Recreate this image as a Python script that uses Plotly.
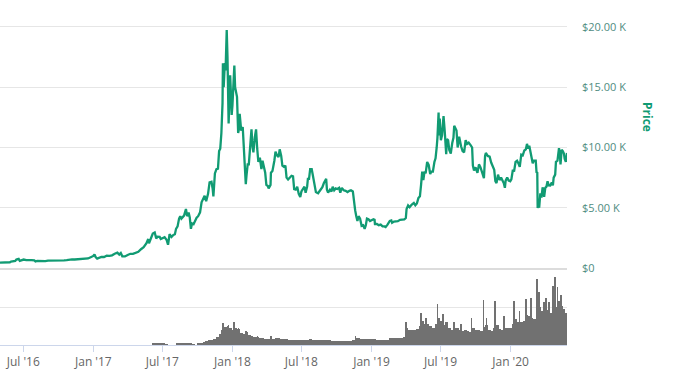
import plotly.graph_objects as go
import pandas as pd

# ---------------- price (USD) ----------------
price_dates = [
"2016-05-01","2016-05-08","2016-05-15","2016-05-22","2016-05-27","2016-05-30","2016-06-05","2016-06-10","2016-06-13","2016-06-16",
"2016-06-19","2016-06-22","2016-06-26","2016-07-02","2016-07-09","2016-07-16","2016-07-23","2016-07-30","2016-08-02","2016-08-07",
"2016-08-14","2016-08-21","2016-08-28","2016-09-04","2016-09-11","2016-09-18","2016-09-25","2016-10-02","2016-10-09","2016-10-16",
"2016-10-23","2016-10-30","2016-11-06","2016-11-13","2016-11-20","2016-11-27","2016-12-04","2016-12-11","2016-12-18","2016-12-25",
"2017-01-01","2017-01-04","2017-01-07","2017-01-11","2017-01-15","2017-01-22","2017-01-29","2017-02-05","2017-02-12","2017-02-19",
"2017-02-26","2017-03-05","2017-03-10","2017-03-14","2017-03-18","2017-03-25","2017-04-01","2017-04-08","2017-04-15","2017-04-22",
"2017-04-29","2017-05-06","2017-05-13","2017-05-20","2017-05-25","2017-05-27","2017-06-01","2017-06-06","2017-06-11","2017-06-15",
"2017-06-18","2017-06-24","2017-06-27","2017-07-02","2017-07-07","2017-07-12","2017-07-16","2017-07-20","2017-07-25","2017-07-30",
"2017-08-03","2017-08-06","2017-08-10","2017-08-14","2017-08-17","2017-08-20","2017-08-24","2017-08-27","2017-09-01","2017-09-04",
"2017-09-08","2017-09-11","2017-09-14","2017-09-17","2017-09-21","2017-09-25","2017-09-29","2017-10-03","2017-10-08","2017-10-12",
"2017-10-16","2017-10-20","2017-10-24","2017-10-29","2017-11-02","2017-11-07","2017-11-10","2017-11-12","2017-11-16","2017-11-20",
"2017-11-24","2017-11-27","2017-11-30","2017-12-03","2017-12-06","2017-12-07","2017-12-09","2017-12-12","2017-12-14","2017-12-17",
"2017-12-19","2017-12-22","2017-12-24","2017-12-26","2017-12-28","2017-12-30","2018-01-01","2018-01-04","2018-01-06","2018-01-08",
"2018-01-10","2018-01-13","2018-01-16","2018-01-18","2018-01-20","2018-01-24","2018-01-28","2018-01-31","2018-02-02","2018-02-05",
"2018-02-07","2018-02-10","2018-02-13","2018-02-16","2018-02-20","2018-02-23","2018-02-25","2018-03-01","2018-03-04","2018-03-07",
"2018-03-10","2018-03-14","2018-03-18","2018-03-21","2018-03-25","2018-03-28","2018-03-31","2018-04-04","2018-04-06","2018-04-11",
"2018-04-12","2018-04-16","2018-04-21","2018-04-24","2018-04-28","2018-05-02","2018-05-05","2018-05-09","2018-05-12","2018-05-16",
"2018-05-20","2018-05-23","2018-05-27","2018-05-31","2018-06-05","2018-06-09","2018-06-12","2018-06-16","2018-06-20","2018-06-24",
"2018-06-28","2018-07-01","2018-07-05","2018-07-09","2018-07-12","2018-07-16","2018-07-18","2018-07-21","2018-07-24","2018-07-28",
"2018-07-31","2018-08-04","2018-08-08","2018-08-11","2018-08-14","2018-08-17","2018-08-21","2018-08-25","2018-08-29","2018-09-04",
"2018-09-06","2018-09-09","2018-09-14","2018-09-18","2018-09-21","2018-09-25","2018-09-29","2018-10-03","2018-10-08","2018-10-11",
"2018-10-15","2018-10-20","2018-10-25","2018-10-30","2018-11-04","2018-11-08","2018-11-13","2018-11-15","2018-11-19","2018-11-22",
"2018-11-25","2018-11-28","2018-12-02","2018-12-06","2018-12-10","2018-12-14","2018-12-17","2018-12-20","2018-12-24","2018-12-28",
"2019-01-01","2019-01-06","2019-01-09","2019-01-10","2019-01-15","2019-01-20","2019-01-25","2019-01-30","2019-02-04","2019-02-07",
"2019-02-12","2019-02-18","2019-02-22","2019-02-24","2019-03-01","2019-03-06","2019-03-11","2019-03-17","2019-03-23","2019-03-28",
"2019-04-01","2019-04-03","2019-04-07","2019-04-11","2019-04-16","2019-04-22","2019-04-26","2019-04-30","2019-05-04","2019-05-08",
"2019-05-11","2019-05-14","2019-05-17","2019-05-20","2019-05-23","2019-05-27","2019-05-31","2019-06-04","2019-06-07","2019-06-11",
"2019-06-15","2019-06-18","2019-06-21","2019-06-23","2019-06-26","2019-06-27","2019-06-29","2019-07-02","2019-07-05","2019-07-09",
"2019-07-12","2019-07-14","2019-07-16","2019-07-18","2019-07-21","2019-07-24","2019-07-28","2019-08-01","2019-08-04","2019-08-06",
"2019-08-09","2019-08-12","2019-08-15","2019-08-19","2019-08-24","2019-08-28","2019-09-01","2019-09-05","2019-09-09","2019-09-13",
"2019-09-18","2019-09-22","2019-09-24","2019-09-27","2019-10-01","2019-10-06","2019-10-10","2019-10-14","2019-10-18","2019-10-23",
"2019-10-26","2019-10-28","2019-11-02","2019-11-07","2019-11-11","2019-11-15","2019-11-19","2019-11-22","2019-11-25","2019-11-29",
"2019-12-03","2019-12-07","2019-12-11","2019-12-14","2019-12-17","2019-12-19","2019-12-23","2019-12-27","2019-12-31","2020-01-03",
"2020-01-07","2020-01-10","2020-01-14","2020-01-18","2020-01-22","2020-01-25","2020-01-29","2020-02-02","2020-02-06","2020-02-10",
"2020-02-13","2020-02-16","2020-02-19","2020-02-22","2020-02-25","2020-02-28","2020-03-02","2020-03-07","2020-03-09","2020-03-11",
"2020-03-12","2020-03-14","2020-03-16","2020-03-19","2020-03-22","2020-03-25","2020-03-29","2020-04-01","2020-04-04","2020-04-07",
"2020-04-10","2020-04-14","2020-04-18","2020-04-21","2020-04-23","2020-04-27","2020-04-29","2020-05-03","2020-05-07","2020-05-09",
"2020-05-11","2020-05-14","2020-05-17","2020-05-20","2020-05-22","2020-05-25","2020-05-28",
]
price_values = [
450,458,455,442,475,530,575,580,700,765,
760,600,640,700,650,665,655,625,545,590,
570,585,575,610,605,610,600,612,618,640,
655,700,710,705,730,735,765,775,790,895,
1000,1135,900,780,820,920,915,1020,1000,1050,
1180,1270,1110,1240,970,960,1080,1180,1180,1240,
1350,1560,1720,2040,2400,2050,2400,2860,2950,2440,
2600,2580,2400,2500,2550,2350,1930,2800,2580,2750,
2800,3250,3450,4100,4300,4100,4300,4350,4900,4300,
4600,4200,3250,3700,3630,3930,4170,4300,4620,5450,
5700,6000,5550,6150,7100,7150,6600,5950,7850,8200,
8250,9700,9900,11200,13700,17000,15000,17000,16400,19750,
17500,12000,14000,16000,14500,12700,13500,15500,16800,15000,
14500,14200,11200,11500,12800,11400,11700,10100,8850,6960,
7700,8600,8600,10100,11500,10000,9600,10900,11500,9900,
8800,9150,8200,8900,8450,7900,6900,6800,6600,6900,
7900,8050,8900,9650,9350,9200,9850,9300,8500,8400,
8500,7500,7350,7500,7650,7600,6550,6500,6750,6150,
5900,6350,6550,6750,6250,6750,7400,7400,8200,8200,
7700,7050,6300,6250,6200,6350,6500,6700,7050,7400,
6500,6250,6500,6350,6750,6450,6600,6550,6650,6250,
6650,6450,6400,6300,6400,6450,6350,5700,4800,4300,
3900,4300,4100,3500,3550,3250,3550,4100,4050,3900,
3950,4050,4000,3650,3650,3550,3600,3450,3450,3400,
3600,3900,3950,3750,3850,3850,3880,4000,4000,4030,
4150,4900,5200,5050,5250,5400,5200,5350,5800,5950,
6900,8000,7300,8000,7850,8800,8550,7800,8000,8000,
8800,9100,10000,10800,12900,11000,12400,10600,11000,12600,
11400,10300,9450,10700,10600,9800,9500,10400,10800,11800,
11500,11400,10000,10900,10100,9700,9600,10600,10300,10400,
10200,10000,8500,8100,8350,7900,8600,8350,7950,7450,
9300,9550,9300,9250,8750,8500,8150,7200,7050,7750,
7300,7500,7200,7050,6650,7250,7500,7250,7200,7350,
8150,8000,8800,8900,8650,8400,9400,9350,9750,9850,
10300,9900,10150,9700,9300,8700,8900,8900,7950,7900,
4970,5400,5000,6200,5850,6700,5900,6650,6750,7200,
6860,6850,7100,6850,7500,7750,8800,8900,9950,9550,
8600,9800,9700,9500,9050,8800,9550,
]

# ---------------- volume (relative units, weekly) ----------------
vol_2016_start = "2016-05-01"
vol_2016 = [0]*35
vol_2017_start = "2017-01-01"
vol_2017 = [0]*22 + [
0.8,1.2,1.0,1.2,1.0,0.5,0,0,0,1.5,
2.5,2.5,2.0,2.8,2.0,0.5,0,1.0,2.5,3.5,
4.5,5.5,6.5,8,10,14,20,24,25,22,20,
]
vol_2018_start = "2018-01-07"
vol_2018 = [
22,21,16,14,17,13,12,10,10,9,
9,8,7.5,7,8,8.5,9,8,7,7,
6.5,6,6.5,6,6,6,5.5,6.5,7,6.5,
6,6.5,5.5,5.5,6,6,5,5,5,4.5,
5,4.5,4.5,5,6,8.5,9,7,7,8,
8,7,
]
vol_2019_start = "2019-01-06"
vol_2019 = [
7,6.5,6,6,6,6.5,9,9,8.5,9,
9.5,10,22,20,19,20,21,25,32,28,
28,25,22,27,36,32,26,30,22,20,
22,22,19,18,19,18,17,22,20,19,
18,24,26,20,18,22,26,21,20,22,
22,22,
]
vol_2020_start = "2020-01-05"
vol_2020 = [
28,34,30,30,32,40,38,36,34,48,
50,45,42,46,42,40,50,58,52,48,
43,
]

# narrow daily spikes
spike_dates = ["2017-12-07","2017-12-22","2018-01-05","2018-01-17","2018-02-06","2018-03-08","2018-04-12","2018-11-20",
               "2019-04-02","2019-05-11","2019-05-24","2019-06-23","2019-07-08","2019-08-06","2019-08-24","2019-09-20",
               "2019-10-22","2019-10-30","2019-11-21","2019-12-15","2020-01-10","2020-01-24","2020-02-10","2020-02-23",
               "2020-03-10","2020-03-16","2020-03-29","2020-04-03","2020-04-11","2020-04-21","2020-04-27","2020-05-03",
               "2020-05-12"]
spike_values = [29,26,30,22,18,12,11,12,
                30,42,36,55,41,30,27,36,
                60,36,58,38,58,45,61,63,
                88,71,57,62,57,78,91,77,
                66]

# tick labels
price_ticks = [0, 5000, 10000, 15000, 20000]
price_ticktext = ["$0", "$5.00 K", "$10.00 K", "$15.00 K", "$20.00 K"]

x_range = ["2016-05-01", "2020-05-28"]

# ------------------------------------------------------------
DAY = 86400000
vol_x, vol_y = [], []
for start, vals in [(vol_2016_start, vol_2016), (vol_2017_start, vol_2017), (vol_2018_start, vol_2018),
                    (vol_2019_start, vol_2019), (vol_2020_start, vol_2020)]:
    d = pd.date_range(start, periods=len(vals), freq="7D")
    vol_x += list(d)
    vol_y += vals

GREEN = "#119b73"
FONT = "Open Sans"

fig = go.Figure()
fig.add_trace(go.Bar(x=vol_x, y=vol_y, xaxis="x", yaxis="y", width=7 * DAY, offset=0,
                     marker=dict(color="#717171", line=dict(width=0)), showlegend=False))
fig.add_trace(go.Bar(x=pd.to_datetime(spike_dates), y=spike_values, xaxis="x", yaxis="y",
                     width=1.3 * DAY, offset=-0.65 * DAY,
                     marker=dict(color="#717171", line=dict(width=0)), showlegend=False))
fig.add_trace(go.Scatter(x=pd.to_datetime(price_dates), y=price_values, xaxis="x2", yaxis="y2",
                         mode="lines", line=dict(color=GREEN, width=2.3), showlegend=False))

fig.update_layout(
    width=700, height=384,
    margin=dict(l=0, r=133, t=0, b=39),
    paper_bgcolor="white", plot_bgcolor="white",
    barmode="overlay", bargap=0,
    font=dict(family=FONT, size=11, color="#666666"),
    xaxis=dict(domain=[0, 1], anchor="y", type="date", range=x_range,
               tick0="2016-01-01", dtick="M6", tickformat="%b '%y",
               showgrid=False, zeroline=False,
               showline=True, linecolor="#ccd6eb", linewidth=1,
               ticks="outside", ticklen=6, tickcolor="#ccd6eb",
               tickfont=dict(family=FONT, size=12, color="#666666")),
    xaxis2=dict(domain=[0, 1], anchor="y2", type="date", range=x_range, matches="x",
                showticklabels=False, showgrid=False, zeroline=False,
                showline=True, linecolor="#dcdcdc", linewidth=2, ticks=""),
    yaxis=dict(domain=[0, 0.2162], anchor="x", range=[0, 100], tickvals=[50],
               showticklabels=False, showgrid=True, gridcolor="#e6e6e6", gridwidth=1,
               zeroline=False, showline=False, ticks=""),
    yaxis2=dict(domain=[0.2232, 1], anchor="x2", side="right", range=[0, 22240],
                tickvals=price_ticks, ticktext=price_ticktext,
                showgrid=True, gridcolor="#e6e6e6", gridwidth=1,
                zeroline=False, showline=False, ticks="", ticklabelstandoff=14,
                tickfont=dict(family=FONT, size=11, color="#4f8c7f")),
    annotations=[dict(text="<b>Price</b>", x=648 / 567.0, y=(345 - 117) / 345.0,
                      xref="paper", yref="paper", xanchor="center", yanchor="middle",
                      textangle=90, showarrow=False,
                      font=dict(family=FONT, size=12, color=GREEN))],
)

fig.write_html("out.html")
